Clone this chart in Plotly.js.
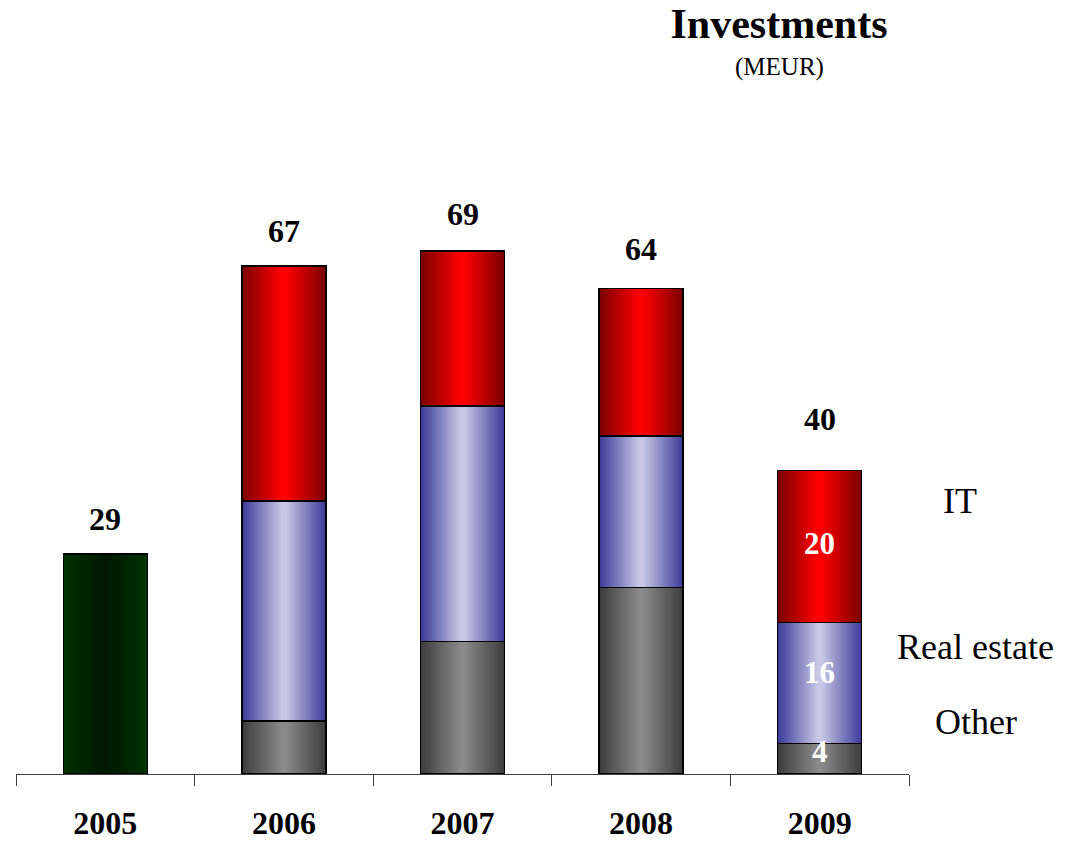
<!DOCTYPE html>
<html>
<head>
<meta charset="utf-8">
<script src="https://cdn.plot.ly/plotly-3.0.1.min.js"></script>
<style>
  html, body { margin: 0; padding: 0; background: #ffffff; }
  #chart { width: 1071px; height: 842px; }
</style>
</head>
<body>
<div id="chart"></div>
<script>
// ---- data (MEUR) ----
const years = ['2005', '2006', '2007', '2008', '2009'];
const undivided = [29, null, null, null, null];      // 2005: no breakdown
const other = [null, 7, 17.5, 24.6, 4];
const realEstate = [null, 29, 31, 20, 16];
const it = [null, 31, 20.5, 19.4, 20];
const totals = [29, 67, 69, 64, 40];
const labelYear = '2009';                               // year with inside labels
const seriesNames = ['IT', 'Real estate', 'Other'];

// ---- styling ----
const serif = 'Liberation Serif, Times New Roman, serif';
const totalLabelShift = [35, 35, 37, 40, 52];          // px above bar top

const common = {
  type: 'bar',
  x: years,
  width: 0.47,
  hoverinfo: 'skip',
  showlegend: false
};

const traces = [
  Object.assign({}, common, { name: 'Total', y: undivided, marker: { color: '#002a00', line: { color: '#000', width: 1.5 } } }),
  Object.assign({}, common, { name: seriesNames[2], y: other, marker: { color: '#666666', line: { color: '#000', width: 1.5 } } }),
  Object.assign({}, common, { name: seriesNames[1], y: realEstate, marker: { color: '#8080c0', line: { color: '#000', width: 1.5 } } }),
  Object.assign({}, common, { name: seriesNames[0], y: it, marker: { color: '#e00000', line: { color: '#000', width: 1.5 } } })
];

const annotations = [];
years.forEach((yr, i) => {
  annotations.push({
    x: i, y: totals[i], xref: 'x', yref: 'y',
    text: '<b>' + totals[i] + '</b>',
    showarrow: false, yanchor: 'middle', xanchor: 'center', yshift: totalLabelShift[i],
    font: { family: serif, size: 32, color: '#000000' }
  });
});

// inside value labels for the last year
const li = years.indexOf(labelYear);
const stackSeries = [other, realEstate, it];
const insideShift = [7, 11, 3];
let base = 0;
stackSeries.forEach((s, k) => {
  const v = s[li];
  annotations.push({
    x: li, y: base + v / 2, xref: 'x', yref: 'y',
    text: '<b>' + v + '</b>', showarrow: false, xanchor: 'center', yanchor: 'middle',
    yshift: insideShift[k],
    font: { family: serif, size: 31, color: '#ffffff' }
  });
  base += v;
});

// series labels at the right, next to the 2009 bar segments
const lastIdx = years.length - 1;
const sideY = [
  other[lastIdx] + realEstate[lastIdx] + it[lastIdx] * 0.8,
  other[lastIdx] + realEstate[lastIdx] * 0.8,
  other[lastIdx] * 1.7
];
const sideX = [1.057, 1.075, 1.075];
seriesNames.forEach((n, k) => {
  annotations.push({
    x: sideX[k], y: sideY[k], xref: 'paper', yref: 'y',
    text: n, showarrow: false, xanchor: 'center', yanchor: 'middle',
    font: { family: serif, size: 36, color: '#000000' }
  });
});

const layout = {
  width: 1071, height: 842,
  paper_bgcolor: '#ffffff', plot_bgcolor: '#ffffff',
  margin: { l: 16, r: 162, t: 90, b: 68, pad: 0 },
  barmode: 'stack',
  showlegend: false,
  title: {
    text: '<b>Investments</b>',
    font: { family: serif, size: 42, color: '#000000' },
    x: 779 / 1071, xanchor: 'center', xref: 'container',
    y: 1 - 23 / 842, yanchor: 'middle', yref: 'container'
  },
  xaxis: {
    type: 'category',
    categoryorder: 'array', categoryarray: years,
    range: [-0.5, years.length - 0.5],
    showline: true, linecolor: '#404040', linewidth: 1,
    ticks: 'outside', tickson: 'boundaries', ticklen: 11, tickcolor: '#404040', tickwidth: 1,
    tickfont: { family: serif, size: 32, color: '#000000', weight: 'bold' },
    ticklabelstandoff: 21,
    showgrid: false, zeroline: false, automargin: false, fixedrange: true
  },
  yaxis: {
    visible: false, range: [0, 90.2], showgrid: false, zeroline: false, fixedrange: true
  },
  annotations: annotations
};

// "(MEUR)" subtitle under the title (container pixel -> paper coords)
(function () {
  const plotTop = layout.margin.t, plotH = layout.height - layout.margin.t - layout.margin.b;
  const plotL = layout.margin.l, plotW = layout.width - layout.margin.l - layout.margin.r;
  annotations.push({
    x: (779 - plotL) / plotW, y: 1 - (67 - plotTop) / plotH, xref: 'paper', yref: 'paper',
    text: '(MEUR)', showarrow: false, xanchor: 'center', yanchor: 'middle',
    font: { family: serif, size: 25, color: '#000000' }
  });
})();

const gradients = {
  'Total': ['#003300', '#001800', '#003300'],
  'Other': ['#3c3c3c', '#8a8a8a', '#3c3c3c'],
  'Real estate': ['#3a3a98', '#c8c8e6', '#3a3a98'],
  'IT': ['#7a0000', '#ff0000', '#7a0000']
};

Plotly.newPlot('chart', traces, layout, { displayModeBar: false, staticPlot: true }).then(function (gd) {
  const svgNS = 'http://www.w3.org/2000/svg';
  const svg = gd.querySelector('svg.main-svg');
  let defs = svg.querySelector('defs');
  if (!defs) { defs = document.createElementNS(svgNS, 'defs'); svg.insertBefore(defs, svg.firstChild); }
  const ids = {};
  Object.keys(gradients).forEach(function (name, k) {
    const g = document.createElementNS(svgNS, 'linearGradient');
    const id = 'barGrad' + k;
    g.setAttribute('id', id);
    g.setAttribute('x1', '0'); g.setAttribute('x2', '1');
    g.setAttribute('y1', '0'); g.setAttribute('y2', '0');
    const cols = gradients[name];
    [[0, cols[0]], [0.48, cols[1]], [0.52, cols[1]], [1, cols[2]]].forEach(function (s) {
      const st = document.createElementNS(svgNS, 'stop');
      st.setAttribute('offset', s[0]);
      st.setAttribute('stop-color', s[1]);
      g.appendChild(st);
    });
    defs.appendChild(g);
    ids[name] = id;
  });
  const traceGroups = gd.querySelectorAll('g.trace.bars');
  traceGroups.forEach(function (tg, i) {
    const name = traces[i].name;
    tg.querySelectorAll('g.point path').forEach(function (p) {
      p.style.fill = 'url(#' + ids[name] + ')';
    });
  });
});
</script>
</body>
</html>
